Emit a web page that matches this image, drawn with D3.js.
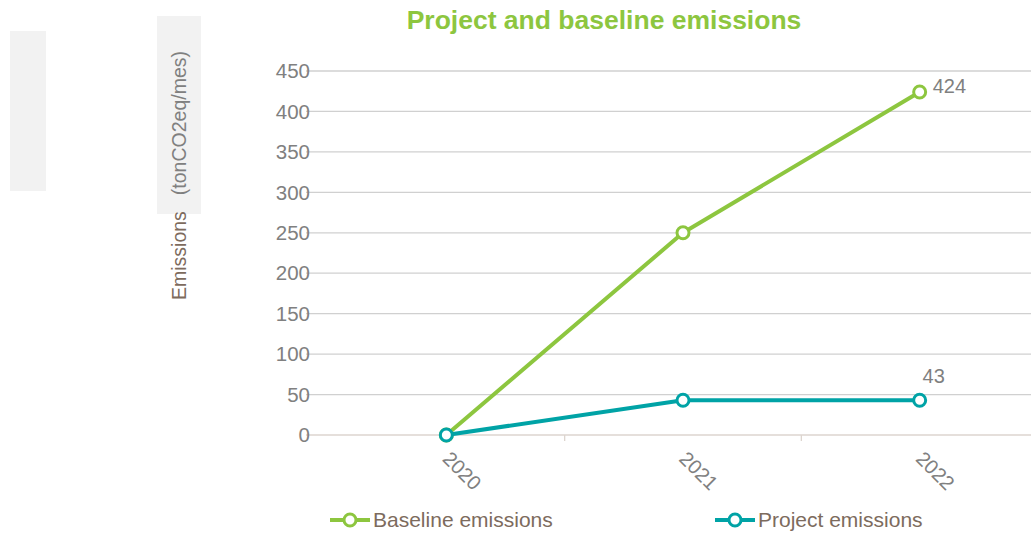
<!DOCTYPE html>
<html><head><meta charset="utf-8">
<script src="https://cdn.jsdelivr.net/npm/d3@7"></script>
<style>body{margin:0;background:#fff;}svg{display:block;font-family:"Liberation Sans",Arial,sans-serif;}</style>
</head><body><svg id="c" width="1031" height="533"></svg>
<script>
const categories = ["2020", "2021", "2022"];
const baseline = [0, 250, 424];
const project = [0, 43, 43];
const yTicks = [0, 50, 100, 150, 200, 250, 300, 350, 400, 450];
const seriesNames = ["Baseline emissions", "Project emissions"];
const title = "Project and baseline emissions";

const green = "#8dc63f", teal = "#00a3a6", brown = "#7d6b5d", gray = "#808080";
const svg = d3.select("#c");

// decorative gray boxes
svg.append("rect").attr("x",10).attr("y",31).attr("width",36).attr("height",160).attr("fill","#f2f2f2");
svg.append("rect").attr("x",157).attr("y",16).attr("width",44).attr("height",198).attr("fill","#f2f2f2");

const x = d3.scaleBand().domain(categories).range([328, 1038]);
const y = d3.scaleLinear().domain([0, 450]).range([435, 71]);
const cx = d => x(d) + x.bandwidth()/2;

// gridlines
svg.append("g").selectAll("line").data(yTicks.filter(t=>t>0)).join("line")
  .attr("x1",306).attr("x2",1031).attr("y1",d=>y(d)).attr("y2",d=>y(d))
  .attr("stroke","#d0d0d0").attr("stroke-width",1.3);
// base axis
svg.append("line").attr("x1",306).attr("x2",1031).attr("y1",y(0)).attr("y2",y(0))
  .attr("stroke","#ddd5cf").attr("stroke-width",1.3);
// category ticks
svg.append("g").selectAll("line").data(categories.slice(1)).join("line")
  .attr("x1",d=>x(d)).attr("x2",d=>x(d)).attr("y1",y(0)).attr("y2",y(0)+6)
  .attr("stroke","#ddd5cf").attr("stroke-width",1.3);

// y tick labels
svg.append("g").selectAll("text").data(yTicks).join("text")
  .attr("x",310).attr("y",d=>y(d)).attr("dy","0.35em").attr("text-anchor","end")
  .attr("font-size",20.5).attr("fill",gray).text(d=>d);

// x labels rotated
svg.append("g").selectAll("text").data(categories).join("text")
  .attr("transform",d=>`translate(${cx(d)},${y(0)+20}) rotate(45)`)
  .attr("font-size",20).attr("fill",gray).attr("dy","0.35em").text(d=>d);

// lines
const line = d3.line().x((d,i)=>cx(categories[i])).y(d=>y(d));
[[baseline, green],[project, teal]].forEach(([vals,col])=>{
  svg.append("path").datum(vals).attr("d",line).attr("fill","none")
    .attr("stroke",col).attr("stroke-width",4).attr("stroke-linejoin","round");
  svg.append("g").selectAll("circle").data(vals).join("circle")
    .attr("cx",(d,i)=>cx(categories[i])).attr("cy",d=>y(d)).attr("r",6)
    .attr("fill","#fff").attr("stroke",col).attr("stroke-width",3);
});

// data labels
svg.append("text").attr("x",cx("2022")+13).attr("y",y(baseline[2])-6).attr("dy","0.35em")
  .attr("font-size",20).attr("fill",gray).text(baseline[2]);
svg.append("text").attr("x",cx("2022")+14).attr("y",y(project[2])-24).attr("dy","0.35em")
  .attr("text-anchor","middle").attr("font-size",20).attr("fill",gray).text(project[2]);

// title
svg.append("text").attr("x",604).attr("y",29).attr("text-anchor","middle")
  .attr("font-size",26.5).attr("font-weight","bold").attr("fill",green).text(title);

// y axis title
const yt = svg.append("text").attr("transform","translate(186,300) rotate(-90)")
  .attr("font-size",19.5).attr("fill",brown);
yt.append("tspan").text("Emissions");
yt.append("tspan").attr("fill",gray).attr("dx",16).text("(tonCO2eq/mes)");

// legend
const legX = [330, 715];
seriesNames.forEach((n,i)=>{
  const col = i===0?green:teal;
  const g = svg.append("g").attr("transform",`translate(${legX[i]},520)`);
  g.append("line").attr("x1",0).attr("x2",40).attr("stroke",col).attr("stroke-width",4);
  g.append("circle").attr("cx",20).attr("r",6).attr("fill","#fff").attr("stroke",col).attr("stroke-width",3);
  g.append("text").attr("x",43).attr("dy","0.35em").attr("font-family","'Liberation Sans Narrow','Arial Narrow',sans-serif")
    .attr("font-size",21).attr("fill",brown).text(n);
});
</script></body></html>
